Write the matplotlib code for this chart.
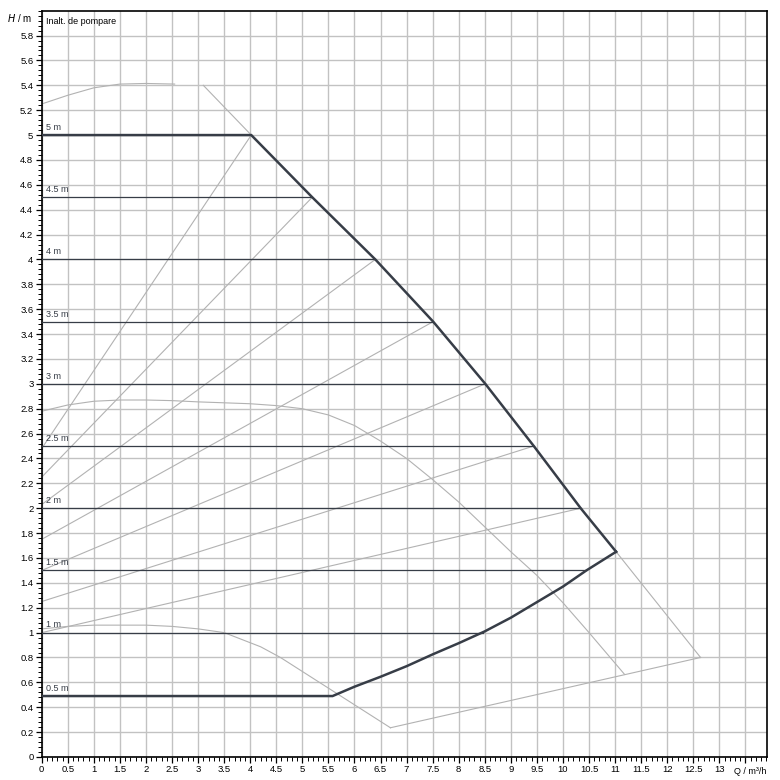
import matplotlib
matplotlib.use('Agg')
import matplotlib.pyplot as plt
from matplotlib.ticker import MultipleLocator

plt.rcParams['font.family'] = ['Liberation Sans', 'DejaVu Sans']

# operating envelope (upper limit line, then lower limit back to the axis)
env_q = [0, 4.02, 5.19, 6.40, 7.51, 8.51, 9.44, 10.34, 11.02]
env_h = [5.0, 5.0, 4.5, 4.0, 3.5, 3.0, 2.5, 2.0, 1.65]
low_q = [11.02, 10.45, 10.0, 9.5, 9.0, 8.5, 8.0, 7.5, 7.0, 6.5, 6.0, 5.58, 0]
low_h = [1.65, 1.5, 1.37, 1.245, 1.12, 1.01, 0.915, 0.825, 0.73, 0.645, 0.565, 0.49, 0.49]

# set-point lines
set_h = [4.5, 4.0, 3.5, 3.0, 2.5, 2.0, 1.5, 1.0]
set_end_q = [5.19, 6.40, 7.51, 8.51, 9.44, 10.34, 10.45, 8.47]
set_labels = ['5 m', '4.5 m', '4 m', '3.5 m', '3 m', '2.5 m', '2 m', '1.5 m', '1 m', '0.5 m']
label_h = [5.0, 4.5, 4.0, 3.5, 3.0, 2.5, 2.0, 1.5, 1.0, 0.49]

# variable pressure lines: start on the H axis, end on the envelope corners
var_h0 = [2.48, 2.25, 2.03, 1.75, 1.5, 1.25, 1.0]

# pump curves (grey)
max_q1 = [0, 0.5, 1.0, 1.5, 2.0, 2.55]
max_h1 = [5.25, 5.32, 5.38, 5.41, 5.415, 5.41]
max_q2 = [3.1, 4.02]
max_h2 = [5.40, 5.0]
max_q3 = [11.02, 12.64]
max_h3 = [1.65, 0.80]
mid_q = [0, 0.5, 1.0, 1.5, 2.0, 2.5, 3.0, 4.0, 4.5, 5.0, 5.5, 6.0, 6.5, 7.0, 7.5, 8.0, 8.5, 9.0, 9.5, 10.0, 10.5, 11.18]
mid_h = [2.78, 2.83, 2.86, 2.87, 2.87, 2.865, 2.855, 2.84, 2.825, 2.80, 2.75, 2.665, 2.54, 2.40, 2.23, 2.05, 1.85, 1.65, 1.46, 1.24, 1.0, 0.665]
min_q = [0, 0.5, 1.0, 2.0, 2.5, 3.0, 3.5, 4.2, 4.58, 6.69]
min_h = [1.03, 1.05, 1.06, 1.06, 1.05, 1.03, 1.0, 0.886, 0.80, 0.235]
base_q = [6.69, 12.64]
base_h = [0.235, 0.80]

dark = '#373d47'
grey = '#b2b2b2'

fig = plt.figure(figsize=(7.8, 7.8), dpi=100)
ax = fig.add_axes([0.0535, 0.0295, 0.9302, 0.9568])

for i in range(len(var_h0)):
	ax.plot([0, env_q[i+1]], [var_h0[i], env_h[i+1]], color=grey, lw=0.8, zorder=2)
ax.plot(max_q1, max_h1, color=grey, lw=0.8, zorder=2)
ax.plot(max_q2, max_h2, color=grey, lw=0.8, zorder=2)
ax.plot(max_q3, max_h3, color=grey, lw=0.8, zorder=2)
ax.plot(mid_q, mid_h, color=grey, lw=0.8, zorder=2)
ax.plot(min_q, min_h, color=grey, lw=0.8, zorder=2)
ax.plot(base_q, base_h, color=grey, lw=0.8, zorder=2)

for h, q in zip(set_h, set_end_q):
	ax.plot([0, q], [h, h], color=dark, lw=0.9, zorder=3)

ax.plot(env_q, env_h, color=dark, lw=1.8, zorder=4, solid_joinstyle='miter')
ax.plot(low_q, low_h, color=dark, lw=1.8, zorder=4, solid_joinstyle='miter')

for lab, h in zip(set_labels, label_h):
	ax.text(0.08, h + 0.025, lab, fontsize=6.5, color=dark, va='bottom', ha='left', zorder=5)

ax.text(0.08, 5.915, 'Inalt. de pompare', fontsize=6.5, color='black', va='center', ha='left')

ax.set_xlim(0, 13.92)
ax.set_ylim(0, 6.0)
ax.xaxis.set_minor_locator(MultipleLocator(0.1))
ax.yaxis.set_minor_locator(MultipleLocator(0.04))
ax.grid(True, which='major', color='#c2c2c2', lw=1.0, zorder=0)
ax.set_axisbelow(True)

xt = [i*0.5 for i in range(27)]
ax.set_xticks(xt + [13.5])
ax.set_xticklabels(['%g' % v for v in xt] + [''])
yt = [i*0.2 for i in range(30)]
ax.set_yticks(yt)
ax.set_yticklabels(['%g' % round(v, 1) for v in yt])

ax.tick_params(which='major', direction='out', length=4, width=0.9, labelsize=6.8, pad=2)
ax.tick_params(which='minor', direction='out', length=3, width=0.7)
for s in ax.spines.values():
	s.set_linewidth(1.2)
	s.set_color('black')

fig.text(0.041, 0.977, r'$H$ / m', fontsize=7, ha='right', va='center')
fig.text(0.962, 0.0106, 'Q / m³/h', fontsize=6.5, ha='center', va='center')

fig.savefig('out.png', dpi=100)
